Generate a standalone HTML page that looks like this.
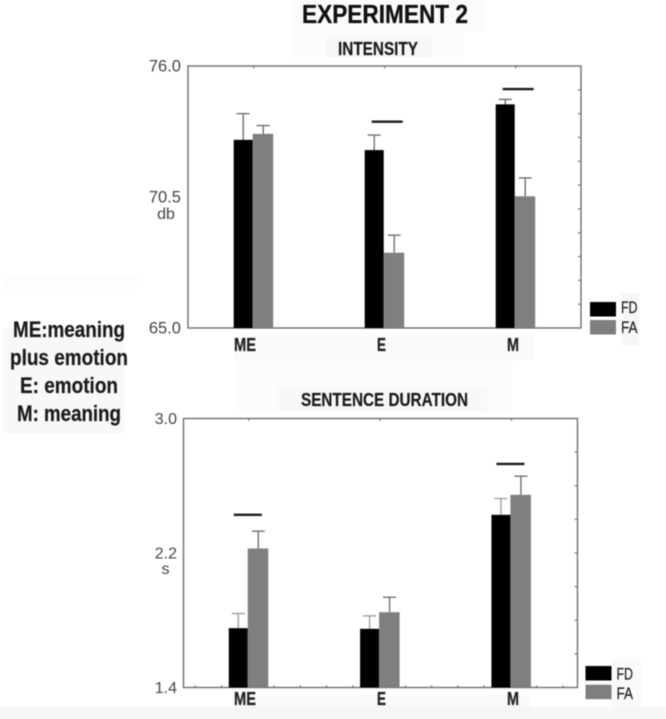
<!DOCTYPE html>
<html lang="en">
<head>
<meta charset="utf-8">
<title>Experiment 2</title>
<style>
html,body{margin:0;padding:0;background:#fff;width:666px;height:719px;overflow:hidden}
svg{display:block;filter:blur(.4px)}
text{font-family:"Liberation Sans",sans-serif}
</style>
</head>
<body>
<svg id="figure" width="666" height="719" viewBox="0 0 666 719" xmlns="http://www.w3.org/2000/svg">
  <g>
    <rect x="292" y="0" width="193" height="32" fill="#fbfbfb"/>
    <rect x="292" y="32" width="171" height="25" fill="#fcfcfc"/>
    <rect x="327" y="37" width="105" height="20" fill="#f7f7f7"/>
    <rect x="234" y="336" width="301" height="24" fill="#fafafa"/>
    <rect x="3" y="328" width="121" height="105" fill="#f8f8f8"/>
    <rect x="3" y="276" width="135" height="13" fill="#fdfdfd"/>
    <rect x="237" y="360" width="275" height="51" fill="#fcfcfc"/>
    <rect x="277" y="388" width="210" height="23" fill="#f8f8f8"/>
    <rect x="622" y="293" width="17" height="52" fill="#f6f6f6"/>
    <rect x="611" y="660" width="30" height="47" fill="#fafafa"/>
    <rect x="232" y="695" width="298" height="20" fill="#f9f9f9"/>
    <rect x="0" y="707" width="666" height="12" fill="#f6f6f6"/>
  </g>
  <text x="302" y="23" font-size="26" font-weight="700" fill="#111" stroke="#111" stroke-width=".3" textLength="166" lengthAdjust="spacingAndGlyphs">EXPERIMENT 2</text>
  <g font-size="22.5" font-weight="700" fill="#1a1a1a" stroke="#1a1a1a" stroke-width=".2">
    <text x="13" y="337" textLength="112" lengthAdjust="spacingAndGlyphs">ME:meaning</text>
    <text x="10" y="365" textLength="118" lengthAdjust="spacingAndGlyphs">plus emotion</text>
    <text x="20" y="393" textLength="98" lengthAdjust="spacingAndGlyphs">E: emotion</text>
    <text x="17" y="421" textLength="104" lengthAdjust="spacingAndGlyphs">M: meaning</text>
  </g>
</svg>
<script>
const categories = ['ME', 'E', 'M'];
const seriesNames = ['FD', 'FA'];

const intensityFD = [72.9, 72.47, 74.39];
const intensityFA = [73.15, 68.16, 70.53];
const intensityFDErr = [1.1, 0.63, 0.21];
const intensityFAErr = [0.35, 0.74, 0.77];
const intensitySig = [null, 73.66, 75.03];
const intensityTicks = ['65.0', '70.5', '76.0'];
const intensityMinorTicks = [66, 67, 68, 69, 70, 71, 72, 73, 74, 75];

const durationFD = [1.753, 1.749, 2.427];
const durationFA = [2.227, 1.848, 2.546];
const durationFDErr = [0.087, 0.077, 0.097];
const durationFAErr = [0.103, 0.089, 0.111];
const durationSig = [2.427, null, 2.73];
const durationTicks = ['1.4', '2.2', '3.0'];
const durationMinorTicks = [1.6, 1.8, 2.0, 2.2, 2.4, 2.6, 2.8];

const SVG_NS = 'http://www.w3.org/2000/svg';
const root = document.getElementById('figure');

function make(parent, tag, attrs, content) {
  const node = document.createElementNS(SVG_NS, tag);
  for (const key in attrs) node.setAttribute(key, attrs[key]);
  if (content !== undefined) node.textContent = content;
  parent.appendChild(node);
  return node;
}

function drawPanel(p) {
  const group = make(root, 'g', {});
  
  

  const yMin = parseFloat(p.ticks[0]);
  const yMax = parseFloat(p.ticks[p.ticks.length - 1]);
  const yScale = v => p.bottom - (v - yMin) / (yMax - yMin) * (p.bottom - p.top);
  const band = (p.right - p.left) / categories.length;
  const xScale = i => p.left + (i + 0.5) * band + p.xShift;

  const title = make(group, 'text', {x: p.titleX, y: p.titleY, 'font-size': 18, 'font-weight': 700, fill: '#1a1a1a', stroke: '#1a1a1a', 'stroke-width': 0.2, textLength: p.titleW, lengthAdjust: 'spacingAndGlyphs'}, p.title);
  
  

  const frame = make(group, 'rect', {x: p.left, y: p.top, width: p.right - p.left, height: p.bottom - p.top, fill: '#fff', stroke: '#6e6e6e', 'stroke-width': 1.4});
  
  

  p.minor.forEach(v => {
    const t = make(group, 'line', {x1: p.right - 3, x2: p.right, y1: yScale(v), y2: yScale(v), stroke: '#666', 'stroke-width': 1});
    
    
  });

  categories.forEach((c, i) => {
    const t = make(group, 'line', {x1: xScale(i) + 1, x2: xScale(i) + 1, y1: p.top, y2: p.top + 2.5, stroke: '#666', 'stroke-width': 1});
    
    
  });

  if (p.bottomTicks) {
    for (let i = 0; i < categories.length; i++) {
      for (let k = -2; k <= 2; k++) {
        const x = xScale(i) + k * band / 5;
        const t = make(group, 'line', {x1: x, x2: x, y1: p.bottom - 2, y2: p.bottom, stroke: '#555', 'stroke-width': 1});
        
        
      }
    }
  }

  categories.forEach((c, i) => {
    const cx = xScale(i);
    const fdTop = yScale(p.fd[i]);
    const faTop = yScale(p.fa[i]);
    const fdCenter = cx - 9.5;
    const faCenter = cx + 10.5;

    const fdStem = make(group, 'line', {x1: fdCenter, x2: fdCenter, y1: fdTop, y2: yScale(p.fd[i] + p.fdErr[i]), stroke: p.fdErrColor, 'stroke-width': 1.3});
    
    
    const fdCap = make(group, 'line', {x1: fdCenter - 6.5, x2: fdCenter + 6.5, y1: yScale(p.fd[i] + p.fdErr[i]), y2: yScale(p.fd[i] + p.fdErr[i]), stroke: p.fdErrColor, 'stroke-width': 1.3});
    
    

    const faStem = make(group, 'line', {x1: faCenter, x2: faCenter, y1: faTop, y2: yScale(p.fa[i] + p.faErr[i]), stroke: '#666', 'stroke-width': 1.3});
    
    
    const faCap = make(group, 'line', {x1: faCenter - 6.5, x2: faCenter + 6.5, y1: yScale(p.fa[i] + p.faErr[i]), y2: yScale(p.fa[i] + p.faErr[i]), stroke: '#666', 'stroke-width': 1.3});
    
    

    const fdBar = make(group, 'rect', {x: cx - 19, y: fdTop, width: 19, height: p.bottom - fdTop, fill: '#000'});
    
    
    const faBar = make(group, 'rect', {x: cx, y: faTop, width: 20.5, height: p.bottom - faTop, fill: '#7f7f7f'});
    
    

    if (p.sig[i] !== null) {
      const s = make(group, 'line', {x1: cx + p.sigFrom, x2: cx + p.sigTo, y1: yScale(p.sig[i]), y2: yScale(p.sig[i]), stroke: '#1a1a1a', 'stroke-width': 2.4});
      
      
    }

    const w = c === 'ME' ? 22 : (c === 'E' ? 9 : 12);
    const label = make(group, 'text', {x: p.catX(i), y: p.catY, 'text-anchor': 'middle', 'font-size': 18, 'font-weight': 700, fill: '#222', stroke: '#222', 'stroke-width': 0.25, textLength: w, lengthAdjust: 'spacingAndGlyphs'}, c);
    
    
  });

  p.ticks.forEach(t => {
    const label = make(group, 'text', {x: p.left - p.tickGap, y: yScale(parseFloat(t)) + 5.3, 'text-anchor': 'end', 'font-size': p.tickSize, fill: '#444'}, t);
    
    
  });

  const unit = make(group, 'text', {x: p.unitX, y: p.unitY, 'text-anchor': 'middle', 'font-size': 16, fill: '#444'}, p.unit);
  
  

  seriesNames.forEach((name, i) => {
    const swatch = make(group, 'rect', {x: p.legendX, y: p.legendY[i], width: 26, height: 14.5, fill: i === 0 ? '#000' : '#7f7f7f'});
    
    
    const text = make(group, 'text', {x: p.legendX + 31, y: p.legendTextY[i], 'font-size': 17, fill: '#222', stroke: '#222', 'stroke-width': 0.25, textLength: 16.5, lengthAdjust: 'spacingAndGlyphs'}, name);
    
    
  });
}

drawPanel({
  id: 'intensity', title: 'INTENSITY', titleX: 338, titleY: 55, titleW: 80,
  left: 188, right: 581, top: 66, bottom: 328, xShift: -0.8,
  fd: intensityFD, fa: intensityFA, fdErr: intensityFDErr, faErr: intensityFAErr,
  fdErrColor: '#666', sig: intensitySig, sigFrom: -12, sigTo: 19,
  ticks: intensityTicks, minor: intensityMinorTicks, tickGap: 7, tickSize: 16.5,
  bottomTicks: false, unit: 'db', unitX: 166, unitY: 219,
  catX: i => [245, 381.5, 513][i], catY: 351,
  legendX: 590, legendY: [302, 320], legendTextY: [313, 333]
});

drawPanel({
  id: 'sentence-duration', title: 'SENTENCE DURATION', titleX: 301, titleY: 406, titleW: 167,
  left: 183.5, right: 577.5, top: 418.5, bottom: 687.5, xShift: -1.4,
  fd: durationFD, fa: durationFA, fdErr: durationFDErr, faErr: durationFAErr,
  fdErrColor: '#999', sig: durationSig, sigFrom: -14, sigTo: 14,
  ticks: durationTicks, minor: durationMinorTicks, tickGap: 6.5, tickSize: 16,
  bottomTicks: true, unit: 's', unitX: 165.5, unitY: 574,
  catX: i => [245, 381.5, 513][i], catY: 705,
  legendX: 585.5, legendY: [666, 684.7], legendTextY: [679.5, 699]
});
</script>
</body>
</html>
